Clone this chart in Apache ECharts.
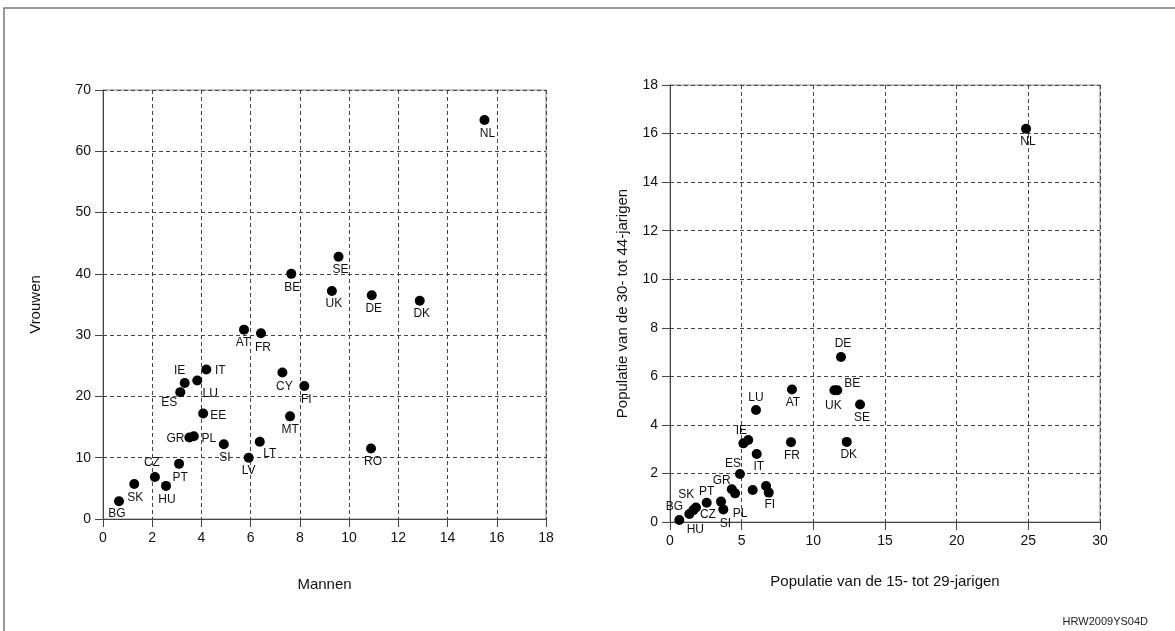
<!DOCTYPE html>
<html lang="nl">
<head>
    <meta charset="UTF-8">
    <title>Mannen en vrouwen</title>
    <script src="https://cdn.jsdelivr.net/npm/echarts@6/dist/echarts.min.js"></script>
    <style>
        html, body { margin: 0; padding: 0; background: #fff; }
        #chart { width: 1175px; height: 631px; }
    </style>
</head>
<body>
<div id="chart"></div>
<script>
    // linker grafiek: mannen (x) tegen vrouwen (y)
    var leftCodes = ['BG', 'SK', 'CZ', 'HU', 'PT', 'GR', 'PL', 'SI', 'EE', 'ES', 'IE', 'LU', 'IT', 'LV',
        'LT', 'CY', 'MT', 'FI', 'AT', 'FR', 'RO', 'UK', 'DE', 'DK', 'SE', 'BE', 'NL'];
    var leftMen = [0.65, 1.27, 2.11, 2.56, 3.09, 3.51, 3.69, 4.91, 4.07, 3.14, 3.32, 3.83, 4.2, 5.92,
        6.37, 7.29, 7.6, 8.18, 5.73, 6.42, 10.89, 9.3, 10.92, 12.87, 9.57, 7.65, 15.5];
    var leftWomen = [2.9, 5.7, 6.85, 5.4, 9.0, 13.3, 13.5, 12.2, 17.2, 20.7, 22.2, 22.6, 24.4, 10.0,
        12.6, 23.9, 16.75, 21.7, 30.9, 30.3, 11.5, 37.2, 36.5, 35.6, 42.8, 40.0, 65.1];

    // rechter grafiek: 15-29 jaar (x) tegen 30-44 jaar (y); lege code = geen label
    var rightCodes = ['BG', 'HU', 'SK', 'CZ', 'PT', 'SI', 'PL', 'GR', '', 'ES', '', '', 'FI', 'IE', '',
        'IT', 'LU', 'AT', 'FR', 'DE', 'BE', 'UK', 'SE', 'DK', 'NL'];
    var rightYoung = [0.65, 1.35, 1.63, 1.81, 2.56, 3.72, 3.56, 4.31, 4.54, 4.88, 5.77, 6.7, 6.89, 5.12, 5.46,
        6.05, 6.0, 8.51, 8.44, 11.93, 11.67, 11.47, 13.26, 12.33, 24.84];
    var rightMid = [0.08, 0.33, 0.49, 0.6, 0.79, 0.52, 0.84, 1.35, 1.18, 1.98, 1.32, 1.48, 1.21, 3.24, 3.38,
        2.8, 4.61, 5.46, 3.29, 6.8, 5.43, 5.43, 4.84, 3.3, 16.2];

    // plaats van de labels t.o.v. de stip (opmaak)
    var offL = {
        BG: [-2, 12], SK: [1, 14], CZ: [-3, -14], HU: [1, 14], PT: [1, 14], GR: [-14, 1], PL: [15, 2],
        SI: [1, 13], EE: [15, 2], ES: [-11, 11], IE: [-5, -12], LU: [13, 13], IT: [14, 1], LV: [0, 13],
        LT: [10, 12], CY: [2, 14], MT: [0, 13], FI: [2, 14], AT: [-1, 13], FR: [2, 14], RO: [2, 13],
        UK: [2, 13], DE: [2, 13], DK: [2, 13], SE: [2, 13], BE: [1, 14], NL: [3, 14]
    };
    var offR = {
        BG: [-5, -13], SK: [-7, -15], CZ: [12, 7], HU: [6, 16], PT: [0, -11], SI: [2, 14], PL: [19, 12],
        GR: [-10, -9], ES: [-7, -10], IT: [2, 13], FI: [1, 12], IE: [-2, -13], LU: [0, -12], AT: [1, 13],
        FR: [1, 14], DE: [2, -13], BE: [15, -6], UK: [-1, 16], SE: [2, 13], DK: [2, 13], NL: [2, 13]
    };

    var font = 'Liberation Sans, Arial, sans-serif';

    function points(codes, xs, ys, offs) {
        var out = [];
        for (var i = 0; i < codes.length; i++) {
            out.push({
                name: codes[i],
                value: [xs[i], ys[i]],
                label: { offset: offs[codes[i]] || [0, 0] }
            });
        }
        return out;
    }

    function xAxis(idx, max, step, name, gap) {
        return {
            type: 'value', gridIndex: idx, min: 0, max: max, interval: step,
            name: name, nameLocation: 'middle', nameGap: gap,
            nameTextStyle: { fontFamily: font, fontSize: 15, color: '#111' },
            axisLine: { onZero: false, lineStyle: { color: '#444', width: 1 } },
            axisTick: { show: true, length: 8, lineStyle: { color: '#444' } },
            axisLabel: { fontFamily: font, fontSize: 14, color: '#111', margin: 12 },
            splitLine: { show: true, lineStyle: { color: '#444', type: [4, 3], width: 1 } }
        };
    }

    function yAxis(idx, max, step, name, gap) {
        return {
            type: 'value', gridIndex: idx, min: 0, max: max, interval: step,
            name: name, nameLocation: 'middle', nameGap: gap, nameRotate: 90,
            nameTextStyle: { fontFamily: font, fontSize: 15, color: '#111' },
            axisLine: { show: true, onZero: false, lineStyle: { color: '#444', width: 1 } },
            axisTick: { show: true, length: 8, lineStyle: { color: '#444' } },
            axisLabel: { fontFamily: font, fontSize: 14, color: '#111', margin: 12 },
            splitLine: { show: true, lineStyle: { color: '#444', type: [4, 3], width: 1 } }
        };
    }

    function scatter(idx, data) {
        return {
            type: 'scatter', xAxisIndex: idx, yAxisIndex: idx,
            symbol: 'circle', symbolSize: 10,
            itemStyle: { color: '#000', opacity: 1 },
            label: {
                show: true, position: 'inside', formatter: '{b}',
                fontFamily: font, fontSize: 12, color: '#111', opacity: 1
            },
            emphasis: { disabled: true },
            data: data
        };
    }

    var chart = echarts.init(document.getElementById('chart'), null, { renderer: 'canvas' });
    chart.setOption({
        animation: false,
        backgroundColor: '#fff',
        grid: [
            { left: 103, top: 90, width: 443, height: 429, show: true, borderColor: '#888', borderWidth: 1 },
            { left: 670, top: 85, width: 430, height: 437, show: true, borderColor: '#888', borderWidth: 1 }
        ],
        xAxis: [
            xAxis(0, 18, 2, 'Mannen', 58),
            xAxis(1, 30, 5, 'Populatie van de 15- tot 29-jarigen', 52)
        ],
        yAxis: [
            yAxis(0, 70, 10, 'Vrouwen', 60),
            yAxis(1, 18, 2, 'Populatie van de 30- tot 44-jarigen', 40)
        ],
        series: [
            scatter(0, points(leftCodes, leftMen, leftWomen, offL)),
            scatter(1, points(rightCodes, rightYoung, rightMid, offR))
        ],
        graphic: [
            {
                type: 'polyline', silent: true,
                shape: { points: [[4, 631], [4, 8], [1175, 8]] },
                style: { stroke: '#777', lineWidth: 1.5, fill: null }
            },
            {
                type: 'text', right: 27, top: 616, silent: true,
                style: { text: 'HRW2009YS04D', fontFamily: font, fontSize: 11, fill: '#222' }
            }
        ]
    });
</script>
</body>
</html>
